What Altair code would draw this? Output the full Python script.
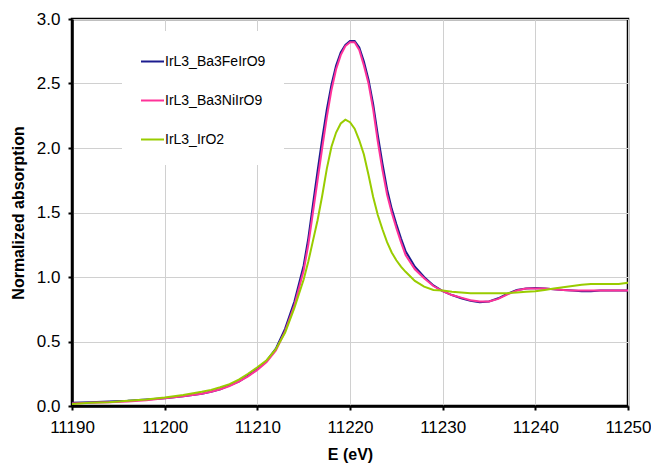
import altair as alt
import pandas as pd

energy = [11190, 11192, 11194, 11196, 11198, 11200, 11202, 11204, 11205, 11206,
          11207, 11208, 11209, 11210, 11211, 11212, 11213, 11214, 11215, 11215.5,
          11216, 11216.5, 11217, 11217.5, 11218, 11218.5, 11219, 11219.5, 11220, 11220.5,
          11221, 11221.5, 11222, 11222.5, 11223, 11223.5, 11224, 11224.5, 11225, 11225.5,
          11226, 11227, 11228, 11229, 11230, 11231, 11232, 11233, 11234, 11235,
          11236, 11237, 11238, 11239, 11240, 11241, 11242, 11243, 11244, 11245,
          11246, 11247, 11248, 11249, 11250]

fe = [0.025, 0.03, 0.035, 0.04, 0.05, 0.06, 0.075, 0.095, 0.11, 0.13,
      0.16, 0.19, 0.235, 0.285, 0.35, 0.445, 0.6, 0.81, 1.09, 1.3,
      1.56, 1.82, 2.07, 2.3, 2.49, 2.64, 2.74, 2.8, 2.83, 2.83,
      2.78, 2.67, 2.53, 2.34, 2.1, 1.88, 1.68, 1.53, 1.41, 1.3,
      1.2, 1.08, 1.0, 0.935, 0.89, 0.86, 0.835, 0.815, 0.805, 0.81,
      0.835, 0.87, 0.9, 0.91, 0.915, 0.91, 0.905, 0.9, 0.895, 0.89,
      0.89, 0.895, 0.895, 0.895, 0.895]

ni = [0.02, 0.025, 0.03, 0.035, 0.045, 0.06, 0.075, 0.095, 0.11, 0.13,
      0.155, 0.19, 0.23, 0.28, 0.34, 0.43, 0.58, 0.78, 1.05, 1.25,
      1.5, 1.75, 2.0, 2.24, 2.45, 2.61, 2.72, 2.79, 2.82, 2.82,
      2.76, 2.64, 2.5, 2.3, 2.05, 1.83, 1.64, 1.5, 1.38, 1.27,
      1.17, 1.06, 0.99, 0.93, 0.89, 0.86, 0.84, 0.82, 0.81, 0.81,
      0.83, 0.865, 0.895, 0.91, 0.91, 0.91, 0.905, 0.9, 0.895, 0.895,
      0.895, 0.895, 0.895, 0.895, 0.895]

iro2 = [0.015, 0.025, 0.03, 0.04, 0.05, 0.065, 0.085, 0.11, 0.125, 0.145,
        0.17, 0.205, 0.25, 0.3, 0.355, 0.44, 0.57, 0.76, 0.98, 1.12,
        1.28, 1.44, 1.63, 1.84, 2.01, 2.12, 2.19, 2.22, 2.2, 2.15,
        2.06, 1.95, 1.79, 1.62, 1.48, 1.37, 1.27, 1.19, 1.13, 1.08,
        1.04, 0.97, 0.925, 0.9, 0.895, 0.885, 0.88, 0.875, 0.875, 0.875,
        0.875, 0.875, 0.88, 0.885, 0.89, 0.9, 0.91, 0.92, 0.93, 0.94,
        0.945, 0.945, 0.945, 0.945, 0.955]

series_names = ["IrL3_Ba3FeIrO9", "IrL3_Ba3NiIrO9", "IrL3_IrO2"]
series_colors = ["#1c1c8f", "#ff3399", "#99cc00"]
x_ticks = [11190, 11200, 11210, 11220, 11230, 11240, 11250]
y_ticks = [0.0, 0.5, 1.0, 1.5, 2.0, 2.5, 3.0]

rows = []
for name, vals in zip(series_names, [fe, ni, iro2]):
    for e, v in zip(energy, vals):
        rows.append({"E": e, "absorption": v, "series": name})
df = pd.DataFrame(rows)

FONT = "Liberation Sans"

chart = alt.Chart(df).mark_line(strokeWidth=2).encode(
    x=alt.X("E:Q", title="E (eV)",
            scale=alt.Scale(domain=[11190, 11250], nice=False, zero=False),
            axis=alt.Axis(values=x_ticks, format="d", labelFontSize=17, titleFontSize=16,
                          titleFontWeight="bold", labelPadding=9, titlePadding=11,
                          labelFlush=False, labelOverlap=False,
                          tickSize=4, tickWidth=2)),
    y=alt.Y("absorption:Q", title="Normalized absorption",
            scale=alt.Scale(domain=[0, 3], nice=False),
            axis=alt.Axis(values=y_ticks, format=".1f", labelFontSize=17, titleFontSize=16,
                          titleFontWeight="bold", labelPadding=8, titlePadding=10,
                          labelFlush=False, labelOverlap=False,
                          tickSize=4, tickWidth=2)),
    color=alt.Color("series:N",
                    scale=alt.Scale(domain=series_names, range=series_colors),
                    legend=alt.Legend(orient="none", legendX=50, legendY=12, title=None,
                                      symbolType="stroke", symbolSize=529,
                                      symbolStrokeWidth=2, labelFontSize=14,
                                      labelFont=FONT, labelOffset=0, rowPadding=19,
                                      fillColor="white", padding=18,
                                      labelColor="#000000")),
    detail="series:N",
).properties(
    width=556,
    height=387,
    autosize=alt.AutoSizeParams(type="none"),
    padding={"left": 72, "top": 19, "right": 23, "bottom": 61},
).configure_view(
    stroke="#000000", strokeWidth=2.5
).configure_axis(
    labelFont=FONT, titleFont=FONT, labelColor="#000000", titleColor="#000000",
    domainColor="#000000", domainWidth=2.5, tickColor="#000000",
    gridColor="#d0d0d0", gridWidth=1
)

chart.save("out.html", embed_options={"renderer": "svg", "actions": False})
